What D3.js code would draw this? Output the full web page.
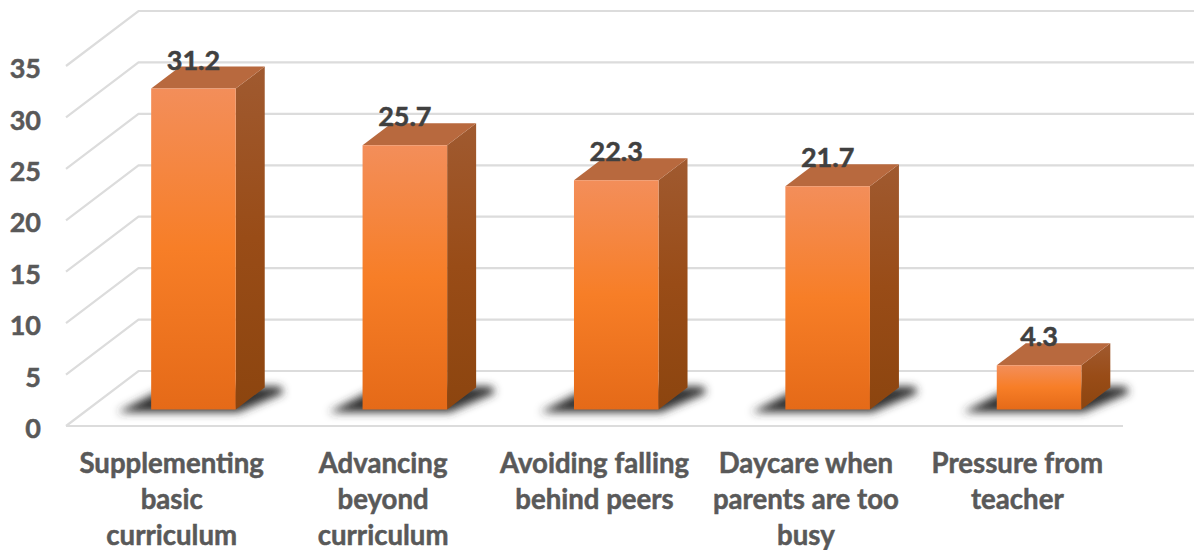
<!DOCTYPE html>
<html lang="en">
<head>
<meta charset="UTF-8">
<title>Chart</title>
<style>
  html, body { margin: 0; background: #fff; }
  svg { display: block; }
  text { font-family: Lato, "Open Sans", sans-serif; font-weight: 700; }
</style>
</head>
<body>
<div id="chart"></div>
<script src="https://d3js.org/d3.v7.min.js"></script>
<script>
const categories = ["Supplementing|basic|curriculum", "Advancing|beyond|curriculum", "Avoiding falling|behind peers", "Daycare when|parents are too|busy", "Pressure from|teacher"];
const values = [31.2, 25.7, 22.3, 21.7, 4.3];
const yTicks = [0, 5, 10, 15, 20, 25, 30, 35];

const width = 1194, height = 550;
const svg = d3.select("#chart").append("svg").attr("width", width).attr("height", height);

const x = d3.scaleBand().domain(categories).range([66, 1123]).paddingInner(0.6).paddingOuter(0.3);
const band = d3.scaleBand().domain(categories).range([66, 1123]);
const y = d3.scaleLinear().domain([0, 35]).range([426, 66]);
// depth of the fake 3d box, 0 = front of floor, 1 = back wall
const dx = d3.scaleLinear().domain([0, 1]).range([0, 72.5]);
const dy = d3.scaleLinear().domain([0, 1]).range([0, -55]);
const barFront = 0.3, barBack = 0.7;

function pt(px, v, z) { return [px + dx(z), y(v) + dy(z)]; }
const line = d3.line();

const defs = svg.append("defs");
function grad(id, stops) {
  const g = defs.append("linearGradient").attr("id", id).attr("x1", 0).attr("y1", 0).attr("x2", 0).attr("y2", 1);
  stops.forEach(s => g.append("stop").attr("offset", s[0]).attr("stop-color", s[1]));
}
grad("frontFill", [[0, "#f38e5a"], [0.5, "#f77e27"], [1, "#e56a18"]]);
grad("sideFill", [[0, "#a05a30"], [0.5, "#994c17"], [1, "#8c450f"]]);
defs.append("filter").attr("id", "blur").attr("x", "-20%").attr("y", "-60%").attr("width", "140%").attr("height", "220%")
  .append("feGaussianBlur").attr("stdDeviation", 4.5);

// wall + floor gridlines
svg.append("g").selectAll("path").data(yTicks).join("path")
  .attr("d", v => line([pt(66, v, 0), pt(66, v, 1), pt(1123, v, 1)]))
  .attr("fill", "none").attr("stroke", "#dcdcdc").attr("stroke-width", 2.2);
svg.append("path")
  .attr("d", line([pt(66, 0, 0), pt(1123, 0, 0)]))
  .attr("fill", "none").attr("stroke", "#dcdcdc").attr("stroke-width", 2.2);

// y axis labels
const yAxis = svg.append("g").attr("transform", "translate(41,3)")
  .call(d3.axisLeft(y).tickValues(yTicks).tickSize(0).tickPadding(0));
yAxis.select(".domain").remove();
yAxis.selectAll("text").attr("fill", "#595959").attr("stroke", "#595959").attr("stroke-width", 0.5)
  .style("font-size", "27px").style("font-family", "Lato").style("font-weight", 700);

// x axis labels, wrapped by hand
const xAxis = svg.append("g").attr("transform", "translate(0,426)")
  .call(d3.axisBottom(band).tickSize(0).tickPadding(0));
xAxis.select(".domain").remove();
xAxis.selectAll("text").each(function(d) {
  const t = d3.select(this).text(null).attr("y", 0).attr("dy", null)
    .attr("fill", "#595959").attr("stroke", "#595959").attr("stroke-width", 0.5)
    .style("font-size", "27.6px").style("font-family", "Lato").style("font-weight", 700);
  d.split("|").forEach((s, i) => {
    t.append("tspan").attr("x", 0).attr("y", 47 + i * 36).text(s);
  });
});

const bars = svg.append("g").selectAll("g").data(values).join("g");

// floor shadow
bars.append("path")
  .attr("d", (v, i) => {
    const c = categories[i], l = x(c), r = l + x.bandwidth();
    return line([pt(l - 30, 0, barFront - 0.05), pt(r + 6, 0, barFront - 0.05), pt(r + 26, 0, barBack - 0.1), pt(r + 14, 0, barBack + 0.02), pt(l - 14, 0, barBack + 0.02)]) + "Z";
  })
  .attr("fill", "#333").attr("filter", "url(#blur)");

// side face
bars.append("path")
  .attr("d", (v, i) => {
    const r = x(categories[i]) + x.bandwidth();
    return line([pt(r, 0, barFront), pt(r, 0, barBack), pt(r, v, barBack), pt(r, v, barFront)]) + "Z";
  })
  .attr("fill", "url(#sideFill)");

// top face
bars.append("path")
  .attr("d", (v, i) => {
    const l = x(categories[i]), r = l + x.bandwidth();
    return line([pt(l, v, barFront), pt(r, v, barFront), pt(r, v, barBack), pt(l, v, barBack)]) + "Z";
  })
  .attr("fill", "#b8693e");

// front face
bars.append("path")
  .attr("d", (v, i) => {
    const l = x(categories[i]), r = l + x.bandwidth();
    return line([pt(l, 0, barFront), pt(r, 0, barFront), pt(r, v, barFront), pt(l, v, barFront)]) + "Z";
  })
  .attr("fill", "url(#frontFill)");

// value labels
bars.append("text")
  .attr("x", (v, i) => pt(x(categories[i]) + x.bandwidth() / 2, v, barFront)[0])
  .attr("y", v => pt(0, v, barFront)[1] - 19)
  .attr("text-anchor", "middle")
  .attr("fill", "#404040")
  .attr("stroke", "#404040").attr("stroke-width", 0.5)
  .style("font-size", "27px")
  .text(v => v);
</script>
</body>
</html>
